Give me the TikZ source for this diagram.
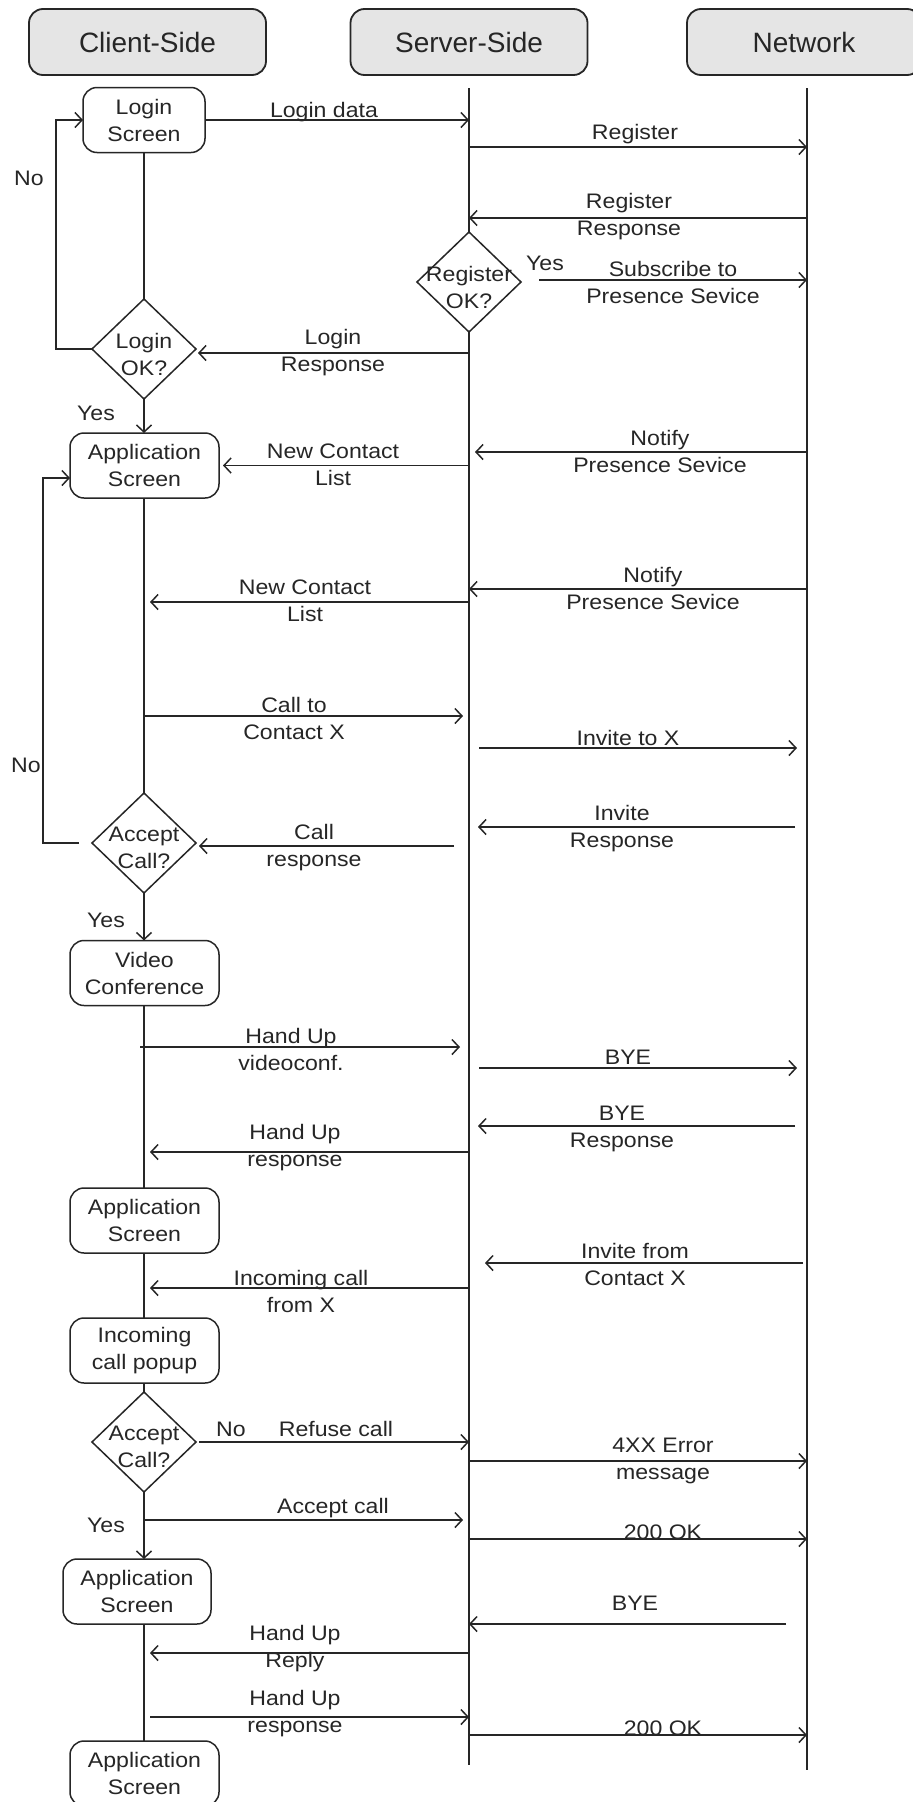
\documentclass[tikz,border=0pt]{standalone}
\usepackage{fontspec}
\setmainfont{Liberation Sans}
\newfontfamily\lblfont{Liberation Sans}[FakeStretch=1.1]
\usetikzlibrary{arrows.meta,shapes.geometric}
\begin{document}
\begin{tikzpicture}[x=1pt,y=-1pt,
  every node/.style={inner sep=0pt, outer sep=0pt, text=black!85},
  hdr/.style={draw=black!85, line width=1.8pt, rounded corners=14pt, fill=gray!20, minimum width=237pt, minimum height=66pt, font=\fontsize{28}{32}\selectfont},
  proc/.style={draw=black!85, line width=1.5pt, rounded corners=14pt, minimum height=65pt, align=center, font=\lblfont\fontsize{21}{27}\selectfont},
  dia/.style={draw=black!85, diamond, line width=1.5pt, minimum width=104pt, minimum height=100pt},
  lbl/.style={align=center, font=\lblfont\fontsize{21}{27}\selectfont},
  life/.style={draw=black!85, line width=1.5pt},
  flow/.style={draw=black!85, line width=1.5pt},
  msg/.style={draw=black!85, line width=1.5pt, -{Straight Barb[length=7pt,width=15pt]}},
]
\useasboundingbox[fill=white] (0,0) rectangle (913,1802);

% headers
\node[hdr] (hC) at (147.5,42) {Client-Side};
\node[hdr] (hS) at (469,42) {Server-Side};
\node[hdr, minimum width=234pt] (hN) at (804,42) {Network};

% lifelines
\coordinate (sTop) at (469,88);
\coordinate (sBot) at (469,1765);
\coordinate (nTop) at (807,88);
\coordinate (nBot) at (807,1770);

\node[dia, label={[lbl, yshift=-5pt]center:{Register\\OK?}}] (regok) at (469,282) {};
\draw[life] (sTop) -- (regok.north);
\draw[life] (regok.south) -- (sBot);
\draw[life] (nTop) -- (nBot);

% client nodes
\node[proc, minimum width=122pt] (login) at (144,120) {Login\\Screen};
\node[dia, label={[lbl, yshift=-5pt]center:{Login\\OK?}}] (loginok) at (144,349) {};
\node[proc, minimum width=149pt] (app1) at (144.5,465.5) {Application\\Screen};
\node[dia, label={[lbl, yshift=-5pt]center:{Accept\\Call?}}] (acc1) at (144,843) {};
\node[proc, minimum width=149pt] (video) at (144.5,973) {Video\\Conference};
\node[proc, minimum width=149pt] (app2) at (144.5,1220.5) {Application\\Screen};
\node[proc, minimum width=149pt] (popup) at (144.5,1350.5) {Incoming\\call popup};
\node[dia, label={[lbl, yshift=-5pt]center:{Accept\\Call?}}] (acc2) at (144,1442) {};
\node[proc, minimum width=148pt] (app3) at (137,1591.5) {Application\\Screen};
\node[proc, minimum width=149pt] (app4) at (144.5,1773.5) {Application\\Screen};

% client flow
\draw[flow] (login.south) -- (login.south |- loginok.north);
\draw[msg] (loginok.south) -- (loginok.south |- app1.north);
\draw[msg] (loginok.west) -- ++(-36,0) |- (login.west);
\draw[flow] (acc1.north |- app1.south) -- (acc1.north);
\draw[msg] ([xshift=-13pt]acc1.west) -- ++(-36,0) |- ([yshift=-12.5pt]app1.west);
\draw[msg] (acc1.south) -- (acc1.south |- video.north);
\draw[flow] (acc1.south |- video.south) -- (acc1.south |- app2.north);
\draw[flow] (acc1.south |- app2.south) -- (acc1.south |- popup.north);
\draw[flow] (acc2.north |- popup.south) -- (acc2.north);
\draw[msg] (acc2.south) -- (acc2.south |- app3.north);
\draw[flow] (acc2.south |- app3.south) -- (acc2.south |- app4.north);

\node[lbl, anchor=base] (no1) at (29,185) {No};
\node[lbl, anchor=base] (yes1) at (96,420) {Yes};
\node[lbl, anchor=base] (no2) at (26,772) {No};
\node[lbl, anchor=base] (yes2) at (106,927) {Yes};
\node[lbl, anchor=base] (yes3) at (106,1532) {Yes};
\node[lbl, anchor=base] (yesR) at (545,270) {Yes};

% messages
\draw[msg] (login.east) -- (login.east -| sTop);
\node[lbl, anchor=base] (t1) at (324,117) {Login data};

\coordinate (a2) at (469,147); \coordinate (b2) at (807,147);
\draw[msg] (a2) -- (b2);
\node[lbl, anchor=base] (t2) at (635,139) {Register};

\coordinate (a3) at (807,218); \coordinate (b3) at (469,218);
\draw[msg] (a3) -- (b3);
\node[lbl] (t3) at (629,217) {Register\\Response};

\coordinate (a4) at (539,280); \coordinate (b4) at (807,280);
\draw[msg] (a4) -- (b4);
\node[lbl] (t4) at (673,282) {Subscribe to\\Presence Sevice};

\coordinate (a5) at (469,353);
\draw[msg] (a5) -- ([xshift=2pt]a5 -| loginok.east);
\node[lbl] (t5) at (333,353) {Login\\Response};

\coordinate (a6) at (807,452); \coordinate (b6) at (475,452);
\draw[msg] (a6) -- (b6);
\node[lbl] (t6) at (660,451) {Notify\\Presence Sevice};

\coordinate (a7) at (469,465.5);
\draw[msg] (a7) -- ([xshift=4pt]app1.east);
\node[lbl] (t7) at (333,464.5) {New Contact\\List};

\coordinate (a8) at (807,589); \coordinate (b8) at (469,589);
\draw[msg] (a8) -- (b8);
\node[lbl] (t8) at (653,588) {Notify\\Presence Sevice};

\coordinate (a9) at (469,602); \coordinate (b9) at (150,602);
\draw[msg] (a9) -- (b9);
\node[lbl] (t9) at (305,600.5) {New Contact\\List};

\coordinate (a10) at (144,716); \coordinate (b10) at (463,716);
\draw[msg] (a10) -- (b10);
\node[lbl] (t10) at (294,718) {Call to\\Contact X};

\coordinate (a11) at (479,748); \coordinate (b11) at (797,748);
\draw[msg] (a11) -- (b11);
\node[lbl, anchor=base] (t11) at (628,745) {Invite to X};

\coordinate (a12) at (795,827); \coordinate (b12) at (478,827);
\draw[msg] (a12) -- (b12);
\node[lbl] (t12) at (622,829) {Invite\\Response};

\coordinate (a13) at (454,846);
\draw[msg] (a13) -- ([xshift=3pt]a13 -| acc1.east);
\node[lbl] (t13) at (314,848) {Call\\response};

\coordinate (a14) at (140,1047); \coordinate (b14) at (460,1047);
\draw[msg] (a14) -- (b14);
\node[lbl] (t14) at (291,1049.5) {Hand Up\\videoconf.};

\coordinate (a15) at (479,1068); \coordinate (b15) at (797,1068);
\draw[msg] (a15) -- (b15);
\node[lbl, anchor=base] (t15) at (628,1064) {BYE};

\coordinate (a16) at (795,1126); \coordinate (b16) at (478,1126);
\draw[msg] (a16) -- (b16);
\node[lbl] (t16) at (622,1128.5) {BYE\\Response};

\coordinate (a17) at (469,1152); \coordinate (b17) at (150,1152);
\draw[msg] (a17) -- (b17);
\node[lbl] (t17) at (295,1148) {Hand Up\\response};

\coordinate (a18) at (803,1263); \coordinate (b18) at (485,1263);
\draw[msg] (a18) -- (b18);
\node[lbl] (t18) at (635,1264.5) {Invite from\\Contact X};

\coordinate (a19) at (469,1288); \coordinate (b19) at (150,1288);
\draw[msg] (a19) -- (b19);
\node[lbl] (t19) at (301,1291) {Incoming call\\from X};

\draw[msg] ([xshift=3pt]acc2.east) -- (acc2.east -| sTop);
\node[lbl, anchor=base] (no3) at (231,1436) {No};
\node[lbl, anchor=base] (t20) at (336,1436) {Refuse call};

\coordinate (a21) at (469,1461); \coordinate (b21) at (807,1461);
\draw[msg] (a21) -- (b21);
\node[lbl] (t21) at (663,1460.5) {4XX Error\\message};

\coordinate (a22) at (144,1520); \coordinate (b22) at (463,1520);
\draw[msg] (a22) -- (b22);
\node[lbl, anchor=base] (t22) at (333,1513) {Accept call};

\coordinate (a23) at (469,1539); \coordinate (b23) at (807,1539);
\draw[msg] (a23) -- (b23);
\node[lbl, anchor=base] (t23) at (663,1539) {200 OK};

\coordinate (a24) at (786,1624); \coordinate (b24) at (469,1624);
\draw[msg] (a24) -- (b24);
\node[lbl, anchor=base] (t24) at (635,1610) {BYE};

\coordinate (a25) at (469,1653); \coordinate (b25) at (150,1653);
\draw[msg] (a25) -- (b25);
\node[lbl] (t25) at (295,1649) {Hand Up\\Reply};

\coordinate (a26) at (150,1717); \coordinate (b26) at (469,1717);
\draw[msg] (a26) -- (b26);
\node[lbl] (t26) at (295,1714) {Hand Up\\response};

\coordinate (a27) at (469,1735); \coordinate (b27) at (807,1735);
\draw[msg] (a27) -- (b27);
\node[lbl, anchor=base] (t27) at (663,1735) {200 OK};
\end{tikzpicture}
\end{document}
